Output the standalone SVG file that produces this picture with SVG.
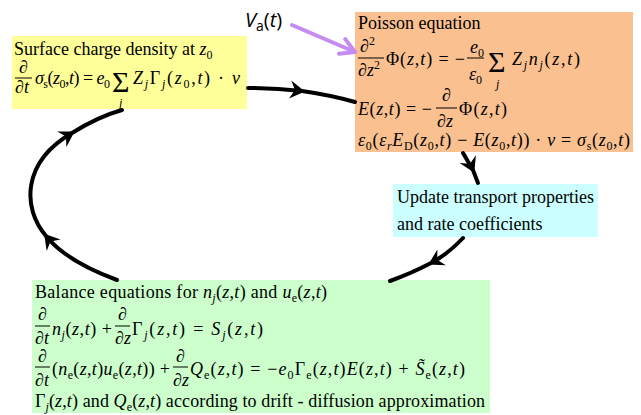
<svg xmlns="http://www.w3.org/2000/svg" width="641" height="415" viewBox="0 0 641 415">
<style>
text{font-family:"Liberation Serif","Times New Roman",serif;font-size:18px;fill:#000}
.i{font-style:italic}
.s{font-size:12px}
.big{font-size:30px}
.bar{stroke:#000;stroke-width:1}
.conn{fill:none;stroke:#000;stroke-width:4;stroke-linecap:round}
.va{fill:none;stroke:#c58bf2;stroke-width:4;stroke-linecap:round}
.lbl{font-family:"Open Sans","Liberation Sans",sans-serif;font-size:20px}
</style>
<defs>
<marker id="ah" viewBox="-13 -10 17 20" markerWidth="17" markerHeight="20" refX="0" refY="0" orient="auto" markerUnits="userSpaceOnUse">
<path d="M3,0 L-12,-9 L-7,0 L-12,9 Z" fill="#000"/>
</marker>
<marker id="pa" viewBox="-16 -10 20 20" markerWidth="20" markerHeight="20" refX="0" refY="0" orient="auto" markerUnits="userSpaceOnUse">
<path d="M-14,-8 L0,0 L-14,8" fill="none" stroke="#c58bf2" stroke-width="4" stroke-linecap="round" stroke-linejoin="round"/>
</marker>
</defs>

<g id="surface">
<rect x="12" y="36" width="235" height="73" fill="#ffff99"/>
<text x="14" y="55">Surface charge density at <tspan class="i">z</tspan><tspan class="s" dy="4">0</tspan></text>
<text x="19" y="73" class="i">∂</text>
<line class="bar" x1="15" y1="78" x2="32" y2="78"/>
<text x="15" y="93"><tspan class="i">∂t</tspan></text>
<text x="35" y="84" textLength="75" lengthAdjust="spacing"><tspan class="i">σ</tspan><tspan class="s" dy="4">s</tspan><tspan dy="-4">(</tspan><tspan class="i">z</tspan><tspan class="s" dy="4">0</tspan><tspan dy="-4">,</tspan><tspan class="i">t</tspan>) = <tspan class="i">e</tspan><tspan class="s" dy="4">0</tspan></text>
<text x="112" y="92" class="big">Σ</text>
<text x="119" y="107" class="i s">j</text>
<text x="133" y="84" textLength="107" lengthAdjust="spacing"><tspan class="i">Z</tspan><tspan class="i s" dy="4">j</tspan><tspan dy="-4">Γ</tspan><tspan class="i s" dy="4">j</tspan><tspan dy="-4">(</tspan><tspan class="i">z</tspan><tspan class="s" dy="4">0</tspan><tspan dy="-4">,</tspan><tspan class="i">t</tspan>) · <tspan class="i">ν</tspan></text>
</g>

<g id="poisson">
<rect x="355" y="12" width="278" height="140" fill="#fac090"/>
<text x="358" y="29">Poisson equation</text>
<text x="360" y="52" class="i">∂<tspan class="s" dy="-7" font-style="normal">2</tspan></text>
<line class="bar" x1="358" y1="58" x2="384" y2="58"/>
<text x="358" y="76" class="i">∂z<tspan class="s" dy="-7" font-style="normal">2</tspan></text>
<text x="386" y="65" textLength="79" lengthAdjust="spacing">Φ(<tspan class="i">z</tspan>,<tspan class="i">t</tspan>) = −</text>
<text x="470" y="53"><tspan class="i">e</tspan><tspan class="s" dy="4">0</tspan></text>
<line class="bar" x1="467" y1="58" x2="484" y2="58"/>
<text x="469" y="80"><tspan class="i">ε</tspan><tspan class="s" dy="4">0</tspan></text>
<text x="488" y="72" class="big">Σ</text>
<text x="496" y="88" class="i s">j</text>
<text x="512" y="65" textLength="68" lengthAdjust="spacing"><tspan class="i">Z</tspan><tspan class="i s" dy="4">j</tspan><tspan class="i" dy="-4">n</tspan><tspan class="i s" dy="4">j</tspan><tspan dy="-4">(</tspan><tspan class="i">z</tspan>,<tspan class="i">t</tspan>)</text>
<text x="358" y="115" textLength="74" lengthAdjust="spacing"><tspan class="i">E</tspan>(<tspan class="i">z</tspan>,<tspan class="i">t</tspan>) = −</text>
<text x="442" y="101" class="i">∂</text>
<line class="bar" x1="436" y1="108" x2="457" y2="108"/>
<text x="437" y="127" class="i">∂z</text>
<text x="459" y="115" textLength="48" lengthAdjust="spacing">Φ(<tspan class="i">z</tspan>,<tspan class="i">t</tspan>)</text>
<text x="358" y="146" textLength="272" lengthAdjust="spacing"><tspan class="i">ε</tspan><tspan class="s" dy="4">0</tspan><tspan dy="-4">(</tspan><tspan class="i">ε</tspan><tspan class="i s" dy="4">r</tspan><tspan class="i" dy="-4">E</tspan><tspan class="s" dy="4">D</tspan><tspan dy="-4">(</tspan><tspan class="i">z</tspan><tspan class="s" dy="4">0</tspan><tspan dy="-4">,</tspan><tspan class="i">t</tspan>) − <tspan class="i">E</tspan>(<tspan class="i">z</tspan><tspan class="s" dy="4">0</tspan><tspan dy="-4">,</tspan><tspan class="i">t</tspan>)) · <tspan class="i">ν</tspan> = <tspan class="i">σ</tspan><tspan class="s" dy="4">s</tspan><tspan dy="-4">(</tspan><tspan class="i">z</tspan><tspan class="s" dy="4">0</tspan><tspan dy="-4">,</tspan><tspan class="i">t</tspan>)</text>
</g>

<g id="update">
<rect x="393" y="184" width="205" height="53" fill="#ccffff"/>
<text x="397" y="203">Update transport properties</text>
<text x="397" y="230">and rate coefficients</text>
</g>

<g id="balance">
<rect x="32" y="280" width="458" height="133" fill="#ccffcc"/>
<text x="35" y="298" textLength="292" lengthAdjust="spacing">Balance equations for <tspan class="i">n</tspan><tspan class="i s" dy="4">j</tspan><tspan dy="-4">(</tspan><tspan class="i">z</tspan>,<tspan class="i">t</tspan>) and <tspan class="i">u</tspan><tspan class="s" dy="4">e</tspan><tspan dy="-4">(</tspan><tspan class="i">z</tspan>,<tspan class="i">t</tspan>)</text>
<text x="38" y="320" class="i">∂</text>
<line class="bar" x1="35" y1="326" x2="50" y2="326"/>
<text x="35" y="344" class="i">∂t</text>
<text x="52" y="335" textLength="60" lengthAdjust="spacing"><tspan class="i">n</tspan><tspan class="i s" dy="4">j</tspan><tspan dy="-4">(</tspan><tspan class="i">z</tspan>,<tspan class="i">t</tspan>) +</text>
<text x="118" y="320" class="i">∂</text>
<line class="bar" x1="115" y1="326" x2="130" y2="326"/>
<text x="115" y="344" class="i">∂z</text>
<text x="132" y="335" textLength="131" lengthAdjust="spacing">Γ<tspan class="i s" dy="4">j</tspan><tspan dy="-4">(</tspan><tspan class="i">z</tspan>,<tspan class="i">t</tspan>) = <tspan class="i">S</tspan><tspan class="i s" dy="4">j</tspan><tspan dy="-4">(</tspan><tspan class="i">z</tspan>,<tspan class="i">t</tspan>)</text>
<text x="38" y="362" class="i">∂</text>
<line class="bar" x1="35" y1="367" x2="50" y2="367"/>
<text x="35" y="386" class="i">∂t</text>
<text x="52" y="375" textLength="118" lengthAdjust="spacing">(<tspan class="i">n</tspan><tspan class="s" dy="4">e</tspan><tspan dy="-4">(</tspan><tspan class="i">z</tspan>,<tspan class="i">t</tspan>)<tspan class="i">u</tspan><tspan class="s" dy="4">e</tspan><tspan dy="-4">(</tspan><tspan class="i">z</tspan>,<tspan class="i">t</tspan>)) +</text>
<text x="176" y="362" class="i">∂</text>
<line class="bar" x1="173" y1="367" x2="188" y2="367"/>
<text x="173" y="386" class="i">∂z</text>
<text x="190" y="375" textLength="275" lengthAdjust="spacing"><tspan class="i">Q</tspan><tspan class="s" dy="4">e</tspan><tspan dy="-4">(</tspan><tspan class="i">z</tspan>,<tspan class="i">t</tspan>) = −<tspan class="i">e</tspan><tspan class="s" dy="4">0</tspan><tspan dy="-4">Γ</tspan><tspan class="s" dy="4">e</tspan><tspan dy="-4">(</tspan><tspan class="i">z</tspan>,<tspan class="i">t</tspan>)<tspan class="i">E</tspan>(<tspan class="i">z</tspan>,<tspan class="i">t</tspan>) + <tspan class="i">S̃</tspan><tspan class="s" dy="4">e</tspan><tspan dy="-4">(</tspan><tspan class="i">z</tspan>,<tspan class="i">t</tspan>)</text>
<text x="35" y="407" textLength="450" lengthAdjust="spacing">Γ<tspan class="i s" dy="4">j</tspan><tspan dy="-4">(</tspan><tspan class="i">z</tspan>,<tspan class="i">t</tspan>) and <tspan class="i">Q</tspan><tspan class="s" dy="4">e</tspan><tspan dy="-4">(</tspan><tspan class="i">z</tspan>,<tspan class="i">t</tspan>) according to drift - diffusion approximation</text>
</g>

<g id="va-label">
<text x="245" y="27" class="lbl"><tspan font-style="italic">V</tspan><tspan font-size="14" dy="4">a</tspan><tspan dy="-4">(</tspan><tspan font-style="italic">t</tspan>)</text>
</g>

<g id="connectors">
<path class="conn" d="M248,88 Q276,88 302,91 Q330,95 355,102" marker-mid="url(#ah)"/>
<path class="conn" d="M463,153 L473,170 L478,183" marker-mid="url(#ah)"/>
<path class="conn" d="M463,238 Q448,254 431,263 Q412,273 390,281" marker-mid="url(#ah)"/>
<path class="conn" d="M117,280 C90,270 62,256 46,236 C22,208 22,162 72,133 C88,123 104,115 122,110" marker-mid="url(#ah)"/>
<path class="va" d="M292,25 L355,52" marker-end="url(#pa)"/>
</g>
</svg>
